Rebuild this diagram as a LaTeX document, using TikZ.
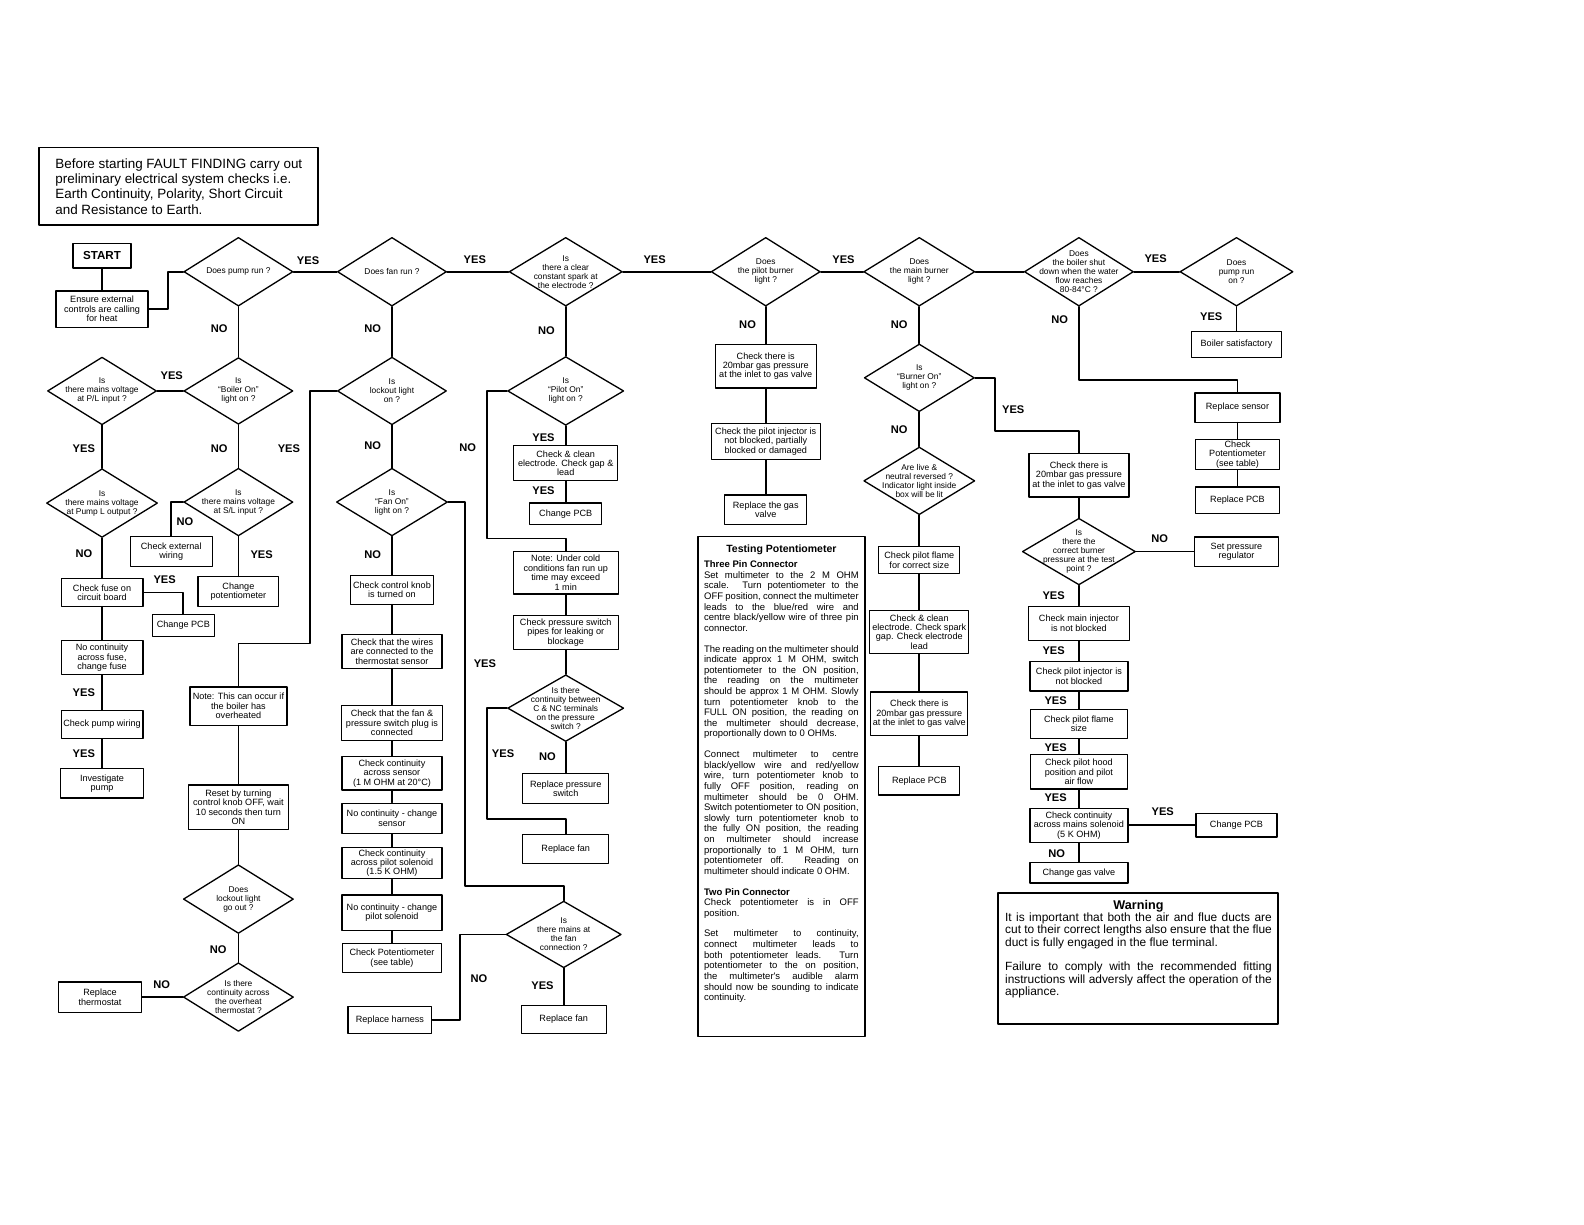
\documentclass[tikz,border=0pt]{standalone}
\usepackage{fontspec}
\setmainfont{Liberation Sans}
\newfontfamily\plainsans[HyphenChar=None]{Liberation Sans}
\usetikzlibrary{shapes.geometric}

\begin{document}
\begin{tikzpicture}[x=1pt, y=-1pt, line cap=round, line join=round,
    box/.style 2 args={draw, line width=1.2pt, inner sep=1pt, align=center,
      minimum width=#1pt, minimum height=#2pt, font=\fontsize{9}{9.3}\selectfont},
    ask/.style 2 args={diamond, draw, line width=1.3pt, inner sep=0pt,
      minimum width=#1pt, minimum height=#2pt},
    qtext/.style={align=center, inner sep=0pt, font=\fontsize{8.3}{8.9}\selectfont},
    yn/.style={font=\bfseries\fontsize{11}{11}\selectfont},
    wire/.style={line width=1.8pt},
    para/.style={anchor=north, align=justify, inner sep=0pt}]
  \useasboundingbox[fill=white] (0,0) rectangle (1568,1212);

  % the note at the top
  \node[draw, line width=1.8pt, minimum width=276pt, minimum height=77pt, align=left,
    font=\fontsize{13.3}{15.3}\selectfont] (intro) at (177,184.5)
    {Before starting FAULT FINDING carry out\\preliminary electrical system checks i.e.\\
     Earth Continuity, Polarity, Short Circuit\\and Resistance to Earth.};

  % the top row of questions
  \node[box={57}{24}, line width=1.6pt, font=\bfseries\fontsize{11.5}{12}\selectfont] (start) at (101,253) {START};
  \node[box={91}{36}] (ensure) at (101,306) {Ensure external\\controls are calling\\for heat};
  \node[ask={108}{68}, label={[qtext]center:{Does pump run ?}}] (pump) at (236,269) {};
  \node[ask={108}{68}, label={[qtext]center:{Does fan run ?}}] (fan) at (388,269) {};
  \node[ask={112}{68}, label={[qtext]center:{Is\\there a clear\\constant spark at\\the electrode ?}}] (spark) at (560,269) {};
  \node[ask={108}{68}, label={[qtext]center:{Does\\the pilot burner\\light ?}}] (pilot) at (758,269) {};
  \node[ask={110}{68}, label={[qtext]center:{Does\\the main burner\\light ?}}] (mainb) at (910,269) {};
  \node[ask={108}{68}, label={[qtext]center:{Does\\the boiler shut\\down when the water\\flow reaches\\80-84°C ?}}] (shut) at (1068,269) {};
  \node[ask={112}{68}, label={[qtext]center:{Does\\pump run\\on ?}}] (pumpon) at (1224,269) {};
  \node[box={89}{26}] (satis) at (1224,341) {Boiler satisfactory};
  \node[box={84}{29}] (sensor) at (1225,403.5) {Replace sensor};
  \node[box={83}{30}] (potb) at (1225,450) {Check\\Potentiometer\\(see table)};
  \node[box={83}{26}] (pcs) at (1225,495) {Replace PCB};

  % pump does not run
  \node[ask={108}{66}, label={[qtext]center:{Is\\“Boiler On”\\light on ?}}] (boiler) at (236,387) {};
  \node[ask={108}{67}, label={[qtext]center:{Is\\there mains voltage\\at P/L input ?}}] (pl) at (101,387) {};
  \node[ask={110}{68}, label={[qtext]center:{Is\\there mains voltage\\at Pump L output ?}}] (pumpl) at (101,498) {};
  \node[ask={108}{67}, label={[qtext]center:{Is\\there mains voltage\\at S/L input ?}}] (sl) at (236,497) {};
  \node[box={81}{27}] (fuse) at (101,586.5) {Check fuse on\\circuit board};
  \node[box={61}{22}] (cpcb1) at (181.5,619) {Change PCB};
  \node[box={81}{34}] (nocont) at (101,651) {No continuity\\across fuse,\\change fuse};
  \node[box={81}{28}] (wiring) at (101,717) {Check pump wiring};
  \node[box={82}{29}] (invest) at (101,775.5) {Investigate\\pump};
  \node[box={81}{30}] (extw) at (169.5,546) {Check external\\wiring};
  \node[box={80}{29}] (chpot) at (236,585.5) {Change\\potentiometer};
  \node[box={96}{38}] (note1) at (236,699) {Note: This can occur if\\the boiler has\\overheated};
  \node[box={99}{44}] (reset) at (236,799) {Reset by turning\\control knob OFF, wait\\10 seconds then turn\\ON};
  \node[ask={109}{68}, label={[qtext]center:{Does\\lockout light\\go out ?}}] (lockgo) at (236,890) {};
  \node[ask={109}{68}, label={[qtext]center:{Is there\\continuity across\\the overheat\\thermostat ?}}] (overheat) at (236,987) {};
  \node[box={82}{30}] (replth) at (99,987) {Replace\\thermostat};

  % fan does not run
  \node[ask={108}{67}, label={[qtext]center:{Is\\lockout light\\on ?}}] (lockout) at (388,387) {};
  \node[ask={110}{67}, label={[qtext]center:{Is\\“Fan On”\\light on ?}}] (fanon) at (388,497) {};
  \node[box={82}{28}] (knob) at (388,584) {Check control knob\\is turned on};
  \node[box={99}{34}] (wires) at (388,645) {Check that the wires\\are connected to the\\thermostat sensor};
  \node[box={100}{35}] (plug) at (388,715.5) {Check that the fan \&\\pressure switch plug is\\connected};
  \node[box={99}{33}] (csens) at (388,765.5) {Check continuity\\across sensor\\(1 M OHM at 20°C)};
  \node[box={99}{30}] (ncsens) at (388,810) {No continuity - change\\sensor};
  \node[box={99}{31}] (csol) at (388,854.5) {Check continuity\\across pilot solenoid\\(1.5 K OHM)};
  \node[box={99}{35}] (ncsol) at (388,903.5) {No continuity - change\\pilot solenoid};
  \node[box={98}{29}] (cpot) at (388,948.5) {Check Potentiometer\\(see table)};
  \node[ask={114}{66}, label={[qtext]center:{Is\\there mains at\\the fan\\connection ?}}] (fanmains) at (558,925) {};
  \node[box={83}{27}] (harness) at (386,1009.5) {Replace harness};
  \node[box={84}{28}] (fan2) at (558,1009) {Replace fan};

  % no spark
  \node[ask={115}{68}, label={[qtext]center:{Is\\“Pilot On”\\light on ?}}] (pilotOn) at (560,387) {};
  \node[box={103}{35}] (clean) at (560,458.5) {Check \& clean\\electrode. Check gap \&\\lead};
  \node[box={71}{21}] (cpcb2) at (560,508.5) {Change PCB};
  \node[box={104}{42}] (notecold) at (560,567) {Note: Under cold\\conditions fan run up\\time may exceed\\1 min};
  \node[box={104}{34}] (pipes) at (560,626) {Check pressure switch\\pipes for leaking or\\blockage};
  \node[ask={115}{66}, label={[qtext]center:{Is there\\continuity between\\C \& NC terminals\\on the pressure\\switch ?}}] (cnc) at (560,701) {};
  \node[box={85}{29}] (rps) at (560,780.5) {Replace pressure\\switch};
  \node[box={85}{29}] (fan1) at (560,840.5) {Replace fan};

  % pilot does not light
  \node[box={100}{43}] (chk20a) at (758,362.5) {Check there is\\20mbar gas pressure\\at the inlet to gas valve};
  \node[box={108}{36}] (injector) at (758,437) {Check the pilot injector is\\not blocked, partially\\blocked or damaged};
  \node[box={81}{29}] (gasvalve) at (758,504.5) {Replace the gas\\valve};

  % main burner does not light
  \node[ask={109}{67}, label={[qtext]center:{Is\\“Burner On”\\light on ?}}] (burnerOn) at (910,374) {};
  \node[ask={110}{67}, label={[qtext]center:{Are live \&\\neutral reversed ?\\Indicator light inside\\box will be lit}}] (live) at (910,476) {};
  \node[box={80}{27}] (flame) at (910,554.5) {Check pilot flame\\for correct size};
  \node[box={98}{43}] (spark2) at (910,625.5) {Check \& clean\\electrode. Check spark\\gap. Check electrode\\lead};
  \node[box={96}{43}] (chk20b) at (910,706.5) {Check there is\\20mbar gas pressure\\at the inlet to gas valve};
  \node[box={80}{28}] (pcb3) at (910,773) {Replace PCB};
  \node[box={99}{43}] (chk20c) at (1068,470.5) {Check there is\\20mbar gas pressure\\at the inlet to gas valve};
  \node[ask={112}{66}, label={[qtext]center:{Is\\there the\\correct burner\\pressure at the test\\point ?}}] (correct) at (1068,546) {};
  \node[box={83}{29}] (setreg) at (1224,546) {Set pressure\\regulator};
  \node[box={100}{34}] (mainInj) at (1068,617) {Check main injector\\is not blocked};
  \node[box={97}{29}] (pilotInj) at (1068,669.5) {Check pilot injector is\\not blocked};
  \node[box={96}{29}] (pflame) at (1068,716.5) {Check pilot flame\\size};
  \node[box={96}{34}] (hood) at (1068,764) {Check pilot hood\\position and pilot\\air flow};
  \node[box={97}{34}] (solen) at (1068,817) {Check continuity\\across mains solenoid\\(5 K OHM)};
  \node[box={80}{23}] (cpcb4) at (1224,817) {Change PCB};
  \node[box={97}{20}] (gasv2) at (1068,864) {Change gas valve};

  % the table for the potentiometer
  \node[draw, line width=1.8pt, minimum width=165pt, minimum height=495pt] (testing) at (773.5,778.5) {};
  \node[font=\bfseries\fontsize{10.4}{12}\selectfont] (testtitle) at (773.5,544) {Testing Potentiometer};
  \node[para, text width=153pt, font=\plainsans\fontsize{9.4}{10.5}\selectfont] (testtext) at (773.5,555) {%
    \emergencystretch=30pt\relax
    \textbf{Three Pin Connector}\\
    Set multimeter to the 2 M OHM scale. Turn potentiometer to the OFF position, connect the
    multimeter leads to the blue/red wire and centre black/yellow wire of three pin connector.\\[10pt]
    The reading on the multimeter should indicate approx 1 M OHM, switch potentiometer to the ON
    position, the reading on the multimeter should be approx 1 M OHM. Slowly turn potentiometer
    knob to the FULL ON position, the reading on the multimeter should decrease, proportionally
    down to 0 OHMs.\\[10pt]
    Connect multimeter to centre black/yellow wire and red/yellow wire, turn potentiometer knob
    to fully OFF position, reading on multimeter should be 0 OHM. Switch potentiometer to ON
    position, slowly turn potentiometer knob to the fully ON position, the reading on multimeter
    should increase proportionally to 1 M OHM, turn potentiometer off. Reading on multimeter
    should indicate 0 OHM.\\[10pt]
    \textbf{Two Pin Connector}\\
    Check potentiometer is in OFF position.\\[10pt]
    Set multimeter to continuity, connect multimeter leads to both potentiometer leads. Turn
    potentiometer to the on position, the multimeter's audible alarm should now be sounding to
    indicate continuity.};

  % the warning
  \node[draw, line width=1.8pt, minimum width=277pt, minimum height=130pt] (warn) at (1126.5,949) {};
  \node[font=\bfseries\fontsize{12.5}{14}\selectfont] (warntitle) at (1127,897) {Warning};
  \node[para, text width=264pt, font=\plainsans\fontsize{11.8}{12.4}\selectfont] (warntext) at (1127,903) {%
    \emergencystretch=30pt\relax
    It is important that both the air and flue ducts are cut to their correct lengths also
    ensure that the flue duct is fully engaged in the flue terminal.\\[12pt]
    Failure to comply with the recommended fitting instructions will adversly affect the
    operation of the appliance.};

  % straight connectors
  \foreach \a/\b in {start/ensure, pump/fan, fan/spark, spark/pilot, pilot/mainb, mainb/shut,
      shut/pumpon, pumpon/satis, sensor/potb, potb/pcs, pump/boiler, boiler/pl, pl/pumpl,
      pumpl/fuse, fuse/nocont, nocont/wiring, wiring/invest, boiler/sl, sl/chpot, note1/reset,
      reset/lockgo, lockgo/overheat, overheat/replth, fan/lockout, lockout/fanon, fanon/knob,
      knob/wires, wires/plug, plug/csens, csens/ncsens, ncsens/csol, csol/ncsol, ncsol/cpot,
      fanmains/fan2, spark/pilotOn, pilotOn/clean, clean/cpcb2, notecold/pipes, pipes/cnc,
      cnc/rps, pilot/chk20a, chk20a/injector, injector/gasvalve, mainb/burnerOn, burnerOn/live,
      live/flame, flame/spark2, spark2/chk20b, chk20b/pcb3, chk20c/correct, correct/setreg,
      correct/mainInj, mainInj/pilotInj, pilotInj/pflame, pflame/hood, hood/solen,
      solen/cpcb4, solen/gasv2}
    \draw[wire] (\a) -- (\b);

  % connectors with bends
  \coordinate (shutbend) at (1068,376);
  \coordinate (lockbend) at (307,637);
  \coordinate (fanbend) at (460,877);
  \coordinate (pilotbend) at (482,533);
  \coordinate (cncbend) at (482,811);
  \coordinate (burnbend) at (985,427);
  \draw[wire] (ensure.east) -- ++(19,0) |- (pump.west);
  \draw[wire] (shut.south) -- (shutbend) -| (sensor.north);
  \draw[wire] (fuse.east) -| (cpcb1.north);
  \draw[wire] (sl.west) -| (extw.north);
  \draw[wire] (lockout.west) -| (lockbend) -| (note1.north);
  \draw[wire] (fanon.east) -| (fanbend) -| (fanmains.north);
  \draw[wire] (fanmains.west) -- ++(-45,0) |- (harness.east);
  \draw[wire] (pilotOn.west) -| (pilotbend) -| (notecold.north);
  \draw[wire] (cnc.west) -| (cncbend) -| (fan1.north);
  \draw[wire] (burnerOn.east) -| (burnbend) -| (chk20c.north);

  % the YES and NO labels
  \foreach \t/\x/\y [count=\i] in {YES/305/258, YES/470/257, YES/648/257, YES/835/257,
      YES/1144/256, YES/1199/313, NO/1049/316, NO/217/325, NO/369/325, NO/541/327,
      NO/740/321, NO/890/321, YES/170/372, YES/83/444, NO/217/444, YES/286/444, NO/369/441,
      NO/463/443, YES/538/433, YES/538/486, NO/890/425, YES/1003/406, NO/183/516, NO/83/548,
      YES/259/549, YES/163/574, NO/369/549, YES/480/657, YES/83/686, YES/83/746, YES/498/746,
      NO/542/749, NO/216/940, NO/160/975, NO/474/969, YES/537/976, NO/1148/533, YES/1043/590,
      YES/1043/644, YES/1045/694, YES/1045/740, YES/1045/790, YES/1151/803, NO/1046/845}
    \node[yn] (lab\i) at (\x,\y) {\t};
\end{tikzpicture}
\end{document}
